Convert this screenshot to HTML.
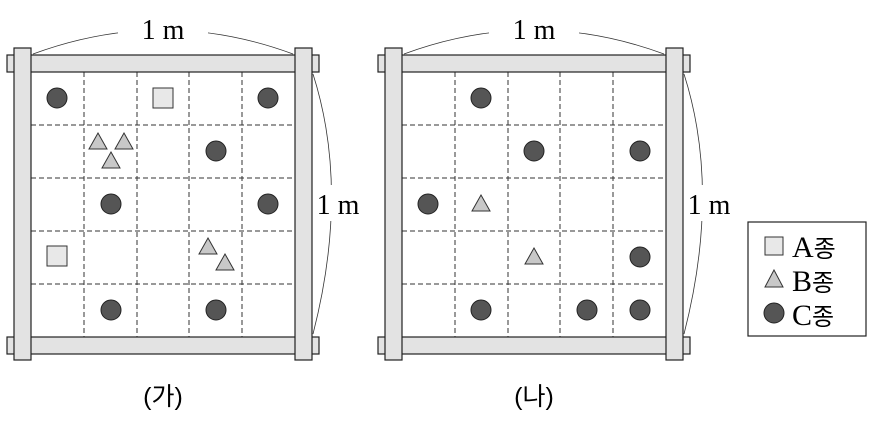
<!DOCTYPE html><html><head><meta charset="utf-8"><style>body{margin:0;background:#fff}</style></head><body>
<svg width="870" height="417" xmlns="http://www.w3.org/2000/svg" font-family="Liberation Serif, Noto Serif CJK SC, serif">
<defs>
<g id="frame">
<path d="M33,54 Q163,6 293,54" fill="none" stroke="#333" stroke-width="0.8"/>
<path d="M313,74 Q350,190 313,334" fill="none" stroke="#333" stroke-width="0.8"/>
<rect x="118" y="12" width="90" height="30" fill="#fff"/>
<text x="163" y="39" font-size="28" text-anchor="middle">1 m</text>
<rect x="310" y="185" width="54" height="36" fill="#fff"/>
<text x="338" y="214" font-size="28" text-anchor="middle">1 m</text>
<g stroke="#333" stroke-width="1" stroke-dasharray="5,3" fill="none">
<line x1="84" y1="72" x2="84" y2="337"/><line x1="137" y1="72" x2="137" y2="337"/><line x1="189" y1="72" x2="189" y2="337"/><line x1="242" y1="72" x2="242" y2="337"/>
<line x1="31" y1="125" x2="295" y2="125"/><line x1="31" y1="178" x2="295" y2="178"/><line x1="31" y1="231" x2="295" y2="231"/><line x1="31" y1="284" x2="295" y2="284"/>
</g>
<g fill="#e3e3e3" stroke="#222" stroke-width="1.2">
<rect x="7" y="55" width="312" height="17"/><rect x="7" y="337" width="312" height="17"/>
<rect x="14" y="48" width="17" height="312"/><rect x="295" y="48" width="17" height="312"/>
</g>
</g>
<circle id="c" r="10" fill="#555" stroke="#222"/>
<polygon id="t" points="0,-9 9,7 -9,7" fill="#c8c8c8" stroke="#333"/>
<rect id="s" x="-10" y="-10" width="20" height="20" fill="#e8e8e8" stroke="#333"/>
</defs>
<use href="#frame"/>
<use href="#frame" x="371"/>
<use href="#c" x="57" y="98"/><use href="#s" x="163" y="98"/><use href="#c" x="268" y="98"/>
<use href="#t" x="98" y="142"/><use href="#t" x="124" y="142"/><use href="#t" x="111" y="161"/><use href="#c" x="216" y="151"/>
<use href="#c" x="111" y="204"/><use href="#c" x="268" y="204"/>
<use href="#s" x="57" y="256"/><use href="#t" x="208" y="247"/><use href="#t" x="225" y="263"/>
<use href="#c" x="111" y="310"/><use href="#c" x="216" y="310"/>
<use href="#c" x="481" y="98"/><use href="#c" x="534" y="151"/><use href="#c" x="640" y="151"/>
<use href="#c" x="428" y="204"/><use href="#t" x="481" y="204"/>
<use href="#t" x="534" y="257"/><use href="#c" x="640" y="257"/>
<use href="#c" x="481" y="310"/><use href="#c" x="587" y="310"/><use href="#c" x="640" y="310"/>
<text x="163" y="405" font-size="25" text-anchor="middle" font-family="Liberation Sans, Noto Sans CJK KR, sans-serif">(가)</text>
<text x="534" y="405" font-size="25" text-anchor="middle" font-family="Liberation Sans, Noto Sans CJK KR, sans-serif">(나)</text>
<rect x="748" y="222" width="118" height="114" fill="#fff" stroke="#222" stroke-width="1.2"/>
<rect x="765" y="237" width="18" height="18" fill="#e8e8e8" stroke="#333"/>
<polygon points="774,270 783,287 765,287" fill="#c8c8c8" stroke="#333"/>
<circle cx="774" cy="313" r="10" fill="#555" stroke="#222"/>
<text x="792" y="257" font-size="30">A<tspan font-family="Noto Sans CJK KR, sans-serif" font-size="24">종</tspan></text>
<text x="792" y="291" font-size="30">B<tspan font-family="Noto Sans CJK KR, sans-serif" font-size="24">종</tspan></text>
<text x="792" y="325" font-size="30">C<tspan font-family="Noto Sans CJK KR, sans-serif" font-size="24">종</tspan></text>
</svg>
</body></html>
